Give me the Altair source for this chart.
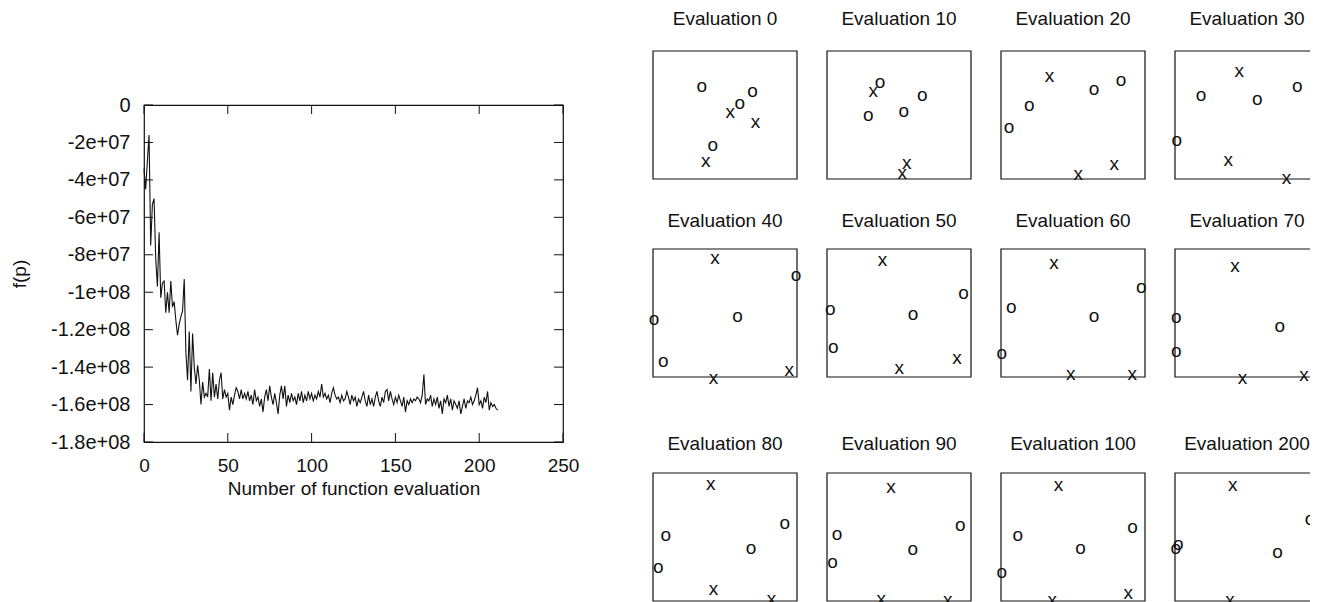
import altair as alt
import pandas as pd

FONT = "Liberation Sans"
INK = "#111111"

# ---- left chart data: f(p) in millions per function evaluation ----
F_MILLIONS = [
    -34, -45, -30, -16, -75, -53, -50, -82, -97, -68,
    -103, -95, -94, -111, -100, -111, -94, -108, -105, -115,
    -123, -117, -113, -110, -93, -132, -147, -121, -153, -122,
    -140, -149, -139, -147, -160, -148, -156, -154, -156, -141,
    -158, -143, -156, -149, -157, -147, -143, -157, -152, -156,
    -154, -163, -156, -160, -155, -151, -153, -157, -152, -157,
    -154, -157, -153, -158, -155, -160, -152, -158, -156, -161,
    -157, -164, -156, -152, -158, -150, -156, -160, -154, -159,
    -165, -155, -150, -157, -150, -161, -155, -159, -154, -158,
    -156, -160, -154, -158, -153, -159, -155, -158, -153, -157,
    -154, -158, -155, -157, -153, -156, -149, -156, -154, -157,
    -155, -159, -154, -151, -155, -157, -156, -159, -155, -158,
    -157, -153, -156, -160, -155, -158, -156, -161, -157, -159,
    -156, -153, -158, -161, -155, -160, -157, -161, -156, -153,
    -158, -161, -156, -159, -153, -152, -158, -153, -157, -160,
    -156, -159, -155, -158, -161, -156, -164, -158, -160, -157,
    -159, -157, -158, -156, -157, -159, -155, -144, -160, -157,
    -158, -155, -161, -157, -160, -156, -162, -158, -165, -157,
    -159, -155, -161, -157, -163, -158, -160, -162, -158, -165,
    -161, -157, -162, -158, -159, -156, -160, -158, -155, -151,
    -160, -158, -162, -156, -159, -153, -163, -159, -161, -160,
    -162, -163,
]
EVALS = list(range(len(F_MILLIONS)))

X_TICKS = [0, 50, 100, 150, 200, 250]
Y_TICKS = [0, -20, -40, -60, -80, -100, -120, -140, -160, -180]
Y_TICK_LABELS = ["0", "-2e+07", "-4e+07", "-6e+07", "-8e+07", "-1e+08",
                 "-1.2e+08", "-1.4e+08", "-1.6e+08", "-1.8e+08"]

# ---- right panels: positions of 'o' and 'x' (fraction of the box) ----
PANEL_LABELS = [0, 10, 20, 30, 40, 50, 60, 70, 80, 90, 100, 200]
E0_O = [(0.339, 0.723), (0.691, 0.684), (0.603, 0.593), (0.415, 0.266)]
E0_X = [(0.536, 0.527), (0.712, 0.444), (0.367, 0.141)]
E10_O = [(0.369, 0.757), (0.661, 0.658), (0.287, 0.501), (0.533, 0.533)]
E10_X = [(0.322, 0.690), (0.554, 0.122), (0.522, 0.044)]
E20_O = [(0.833, 0.770), (0.646, 0.702), (0.197, 0.580), (0.056, 0.410)]
E20_X = [(0.336, 0.807), (0.787, 0.114), (0.537, 0.039)]
E30_O = [(0.850, 0.726), (0.181, 0.658), (0.572, 0.624), (0.012, 0.303)]
E30_X = [(0.447, 0.846), (0.370, 0.149), (0.775, 0.005)]
E40_O = [(0.993, 0.799), (0.007, 0.452), (0.587, 0.478), (0.072, 0.125)]
E40_X = [(0.431, 0.930), (0.946, 0.052), (0.420, -0.005)]
E50_O = [(0.949, 0.660), (0.023, 0.530), (0.598, 0.491), (0.044, 0.235)]
E50_X = [(0.385, 0.912), (0.902, 0.151), (0.501, 0.073)]
E60_O = [(0.974, 0.705), (0.072, 0.543), (0.646, 0.478), (0.005, 0.190)]
E60_X = [(0.368, 0.887), (0.484, 0.026), (0.912, 0.026)]
E70_O = [(0.989, 0.726), (0.009, 0.465), (0.727, 0.399), (0.009, 0.204)]
E70_X = [(0.417, 0.870), (0.468, -0.005), (0.896, 0.016)]
E80_O = [(0.916, 0.610), (0.088, 0.514), (0.680, 0.416), (0.037, 0.265)]
E80_X = [(0.401, 0.914), (0.420, 0.091), (0.823, 0.013)]
E90_O = [(0.926, 0.597), (0.070, 0.527), (0.596, 0.403), (0.039, 0.306)]
E90_X = [(0.445, 0.894), (0.376, 0.013), (0.839, 0.008)]
E100_O = [(0.913, 0.577), (0.116, 0.514), (0.553, 0.416), (0.005, 0.226)]
E100_X = [(0.399, 0.909), (0.884, 0.065), (0.356, 0.005)]
E200_O = [(0.938, 0.637), (0.023, 0.447), (0.005, 0.416), (0.712, 0.382)]
E200_X = [(0.401, 0.909), (0.989, 0.125), (0.382, 0.005)]

PANEL_POINTS = [
    (E0_O, E0_X), (E10_O, E10_X), (E20_O, E20_X), (E30_O, E30_X),
    (E40_O, E40_X), (E50_O, E50_X), (E60_O, E60_X), (E70_O, E70_X),
    (E80_O, E80_X), (E90_O, E90_X), (E100_O, E100_X), (E200_O, E200_X),
]

# ---------------- left line chart ----------------
W, H = 419, 337
TICK = 9
xs = alt.Scale(domain=[0, 250], nice=False, zero=False)
ys = alt.Scale(domain=[-180, 0], nice=False, zero=False)

label_expr = " : ".join(
    f"datum.value == {v} ? '{l}'" for v, l in zip(Y_TICKS, Y_TICK_LABELS)
) + " : ''"

x_axis = alt.Axis(
    values=X_TICKS, ticks=False, tickSize=0, domain=False, grid=False,
    labelFont=FONT, labelFontSize=19, labelColor=INK, labelPadding=14,
    labelFlush=False,
    title="Number of function evaluation", titleFont=FONT,
    titleFontSize=19, titleFontWeight="normal", titleColor=INK,
    titlePadding=4)
y_axis = alt.Axis(
    values=Y_TICKS, labelExpr=label_expr, ticks=False, tickSize=0,
    domain=False, grid=False, labelFont=FONT, labelFontSize=20,
    labelColor=INK, labelPadding=14, labelFlush=False,
    title="f(p)", titleFont=FONT, titleFontSize=19,
    titleFontWeight="normal", titleColor=INK, titlePadding=21)

df_f = pd.DataFrame({"n": EVALS, "f": F_MILLIONS})

line = alt.Chart(df_f).mark_line(color=INK, strokeWidth=1.1).encode(
    x=alt.X("n:Q", scale=xs, axis=x_axis),
    y=alt.Y("f:Q", scale=ys, axis=y_axis),
)

ydf = pd.DataFrame({"v": Y_TICKS})
xdf = pd.DataFrame({"v": X_TICKS})
rule_style = dict(color=INK, strokeWidth=1)
yl = alt.Chart(ydf).mark_rule(**rule_style).encode(
    y=alt.Y("v:Q", scale=ys, axis=y_axis), x=alt.value(0), x2=alt.value(TICK))
yr = alt.Chart(ydf).mark_rule(**rule_style).encode(
    y=alt.Y("v:Q", scale=ys, axis=y_axis), x=alt.value(W - TICK), x2=alt.value(W))
xb = alt.Chart(xdf).mark_rule(**rule_style).encode(
    x=alt.X("v:Q", scale=xs, axis=x_axis), y=alt.value(H - TICK), y2=alt.value(H))
xt = alt.Chart(xdf).mark_rule(**rule_style).encode(
    x=alt.X("v:Q", scale=xs, axis=x_axis), y=alt.value(0), y2=alt.value(TICK))

left = alt.layer(line, yl, yr, xb, xt).properties(
    width=W, height=H,
    view=alt.ViewBackground(stroke=INK, strokeWidth=1.2),
)

spacer = alt.Chart(pd.DataFrame({"s": [""]})).mark_text().encode(
    text="s:N"
).properties(width=W, height=42, view=alt.ViewBackground(stroke="transparent"))

left_col = alt.vconcat(spacer, left, spacing=0)

# ---------------- right panels ----------------
PW, PH = 144, 128
ROW3_EXTRA = 26
TITLE_OFFSETS = [6, 2, 4.5 - ROW3_EXTRA]

panels = []
for i, (lab, (o_pts, x_pts)) in enumerate(zip(PANEL_LABELS, PANEL_POINTS)):
    row = i // 4
    rows = [{"x": p[0], "y": p[1], "s": "o"} for p in o_pts] + \
           [{"x": p[0], "y": p[1], "s": "x"} for p in x_pts]
    h = PH + (ROW3_EXTRA if row == 2 else 0)
    ytop = h / PH
    xsc = alt.Scale(domain=[0, 1], nice=False, zero=False)
    ysc = alt.Scale(domain=[0, ytop], nice=False, zero=False)
    frame = alt.Chart(pd.DataFrame({"k": [0]})).mark_rect(
        filled=False, color=INK, strokeWidth=1.2
    ).encode(
        x=alt.X(datum=0, type="quantitative", scale=xsc, axis=None),
        x2=alt.datum(1),
        y=alt.Y(datum=0, type="quantitative", scale=ysc, axis=None),
        y2=alt.datum(1),
    )
    pts = alt.Chart(pd.DataFrame(rows)).mark_text(
        font=FONT, fontSize=19, color=INK, baseline="middle", align="center"
    ).encode(
        x=alt.X("x:Q", scale=xsc, axis=None),
        y=alt.Y("y:Q", scale=ysc, axis=None),
        text="s:N",
    )
    p = alt.layer(frame, pts).properties(
        width=PW, height=h,
        view=alt.ViewBackground(stroke="transparent"),
        title=alt.TitleParams(
            text=f"Evaluation {lab}", font=FONT, fontSize=19,
            fontWeight="normal", color=INK, frame="group",
            baseline="alphabetic", anchor="middle", offset=TITLE_OFFSETS[row]),
    )
    panels.append(p)

grid = alt.concat(*panels, columns=4, spacing={"row": 70, "column": 30},
                  bounds="flush")

chart = alt.hconcat(left_col, grid, spacing=68).properties(
    padding={"left": 1, "top": 1, "right": -14, "bottom": 0},
    background="white",
).configure_view(stroke="transparent")

chart.save("out.html", embed_options={"renderer": "svg", "actions": False})
